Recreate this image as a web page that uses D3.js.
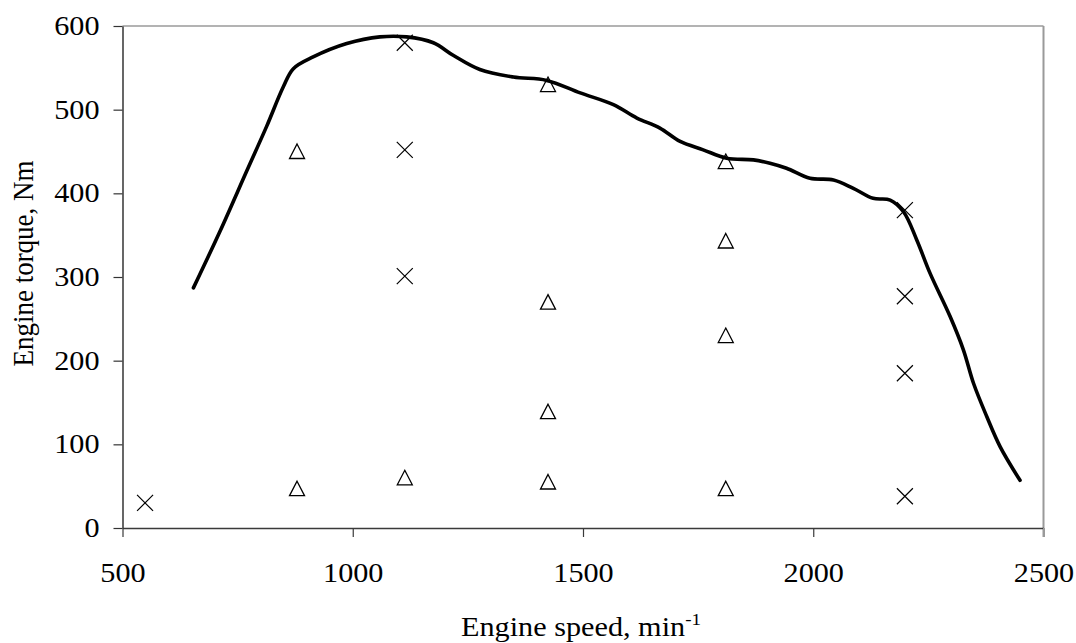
<!DOCTYPE html>
<html>
<head>
<meta charset="utf-8">
<script src="https://cdn.jsdelivr.net/npm/d3@7"></script>
<style>
  html, body { margin: 0; padding: 0; background: #fff; }
  svg { display: block; font-family: "Liberation Serif", "Times New Roman", serif; }
  /* labels are drawn slightly widened horizontally */
  .wide-c { transform-box: fill-box; transform-origin: 50% 50%; transform: scaleX(1.12); }
  .wide-r { transform-box: fill-box; transform-origin: 100% 50%; transform: scaleX(1.12); }
</style>
</head>
<body>
<svg id="chart" width="1076" height="643"></svg>
<script>
// Full-load torque curve: engine speed (min^-1) vs torque (Nm)
const curveSpeed = [654, 712, 770, 813, 849, 871, 914, 987, 1059, 1117, 1175, 1218, 1276,
  1349, 1421, 1494, 1566, 1617, 1667, 1711, 1761, 1812, 1870, 1906, 1942, 1993, 2044,
  2087, 2130, 2167, 2196, 2225, 2254, 2297, 2326, 2348, 2377, 2406, 2449];
const curveTorque = [287, 355, 427, 480, 527, 549, 563, 579, 587, 587, 580, 565, 548,
  539, 535, 520, 506, 490, 478, 462, 452, 442, 440, 436, 430, 418, 416,
  406, 394, 392, 378, 344, 304, 253, 213, 173, 133, 97, 57];

// Operating points marked with triangles
const triSpeed  = [879, 879, 1113, 1424, 1424, 1424, 1424, 1810, 1810, 1810, 1810];
const triTorque = [450, 47, 60, 530, 270, 139, 55, 438, 343, 230, 47];

// Operating points marked with crosses
const crossSpeed  = [549, 1113, 1113, 1113, 2199, 2199, 2199, 2199];
const crossTorque = [30, 580, 452, 301, 380, 277, 185, 38];

// Axis ticks
const xTicks = [500, 1000, 1500, 2000, 2500];
const yTicks = [0, 100, 200, 300, 400, 500, 600];

const plot = { left: 122.5, right: 1043.5, top: 26, bottom: 528 };
const svg = d3.select("#chart");

const x = d3.scaleLinear().domain([500, 2500]).range([plot.left, plot.right]);
const y = d3.scaleLinear().domain([0, 600]).range([plot.bottom, plot.top]);

// Plot frame: grey top and right edges
svg.append("line")
  .attr("x1", plot.left).attr("x2", plot.right)
  .attr("y1", plot.top).attr("y2", plot.top)
  .attr("stroke", "#9a9a9a").attr("stroke-width", 1.5);
svg.append("line")
  .attr("x1", plot.right).attr("x2", plot.right)
  .attr("y1", plot.top).attr("y2", plot.bottom + 9)
  .attr("stroke", "#9a9a9a").attr("stroke-width", 2);

// Y axis
const yAxis = svg.append("g")
  .attr("transform", `translate(${plot.left},0)`)
  .call(d3.axisLeft(y).tickValues(yTicks).tickFormat(d3.format("d"))
    .tickSize(9).tickPadding(14).tickSizeOuter(0));
yAxis.select(".domain").attr("stroke", "#000").attr("stroke-width", 1.2);
yAxis.selectAll(".tick line").attr("stroke", "#333").attr("stroke-width", 1.2);
yAxis.selectAll("text").attr("font-size", 27).attr("fill", "#000")
  .attr("font-family", "Liberation Serif, Times New Roman, serif")
  .attr("class", "wide-r");

// X axis
const xAxis = svg.append("g")
  .attr("transform", `translate(0,${plot.bottom})`)
  .call(d3.axisBottom(x).tickValues(xTicks).tickFormat(d3.format("d"))
    .tickSize(9).tickPadding(26).tickSizeOuter(0));
xAxis.select(".domain").attr("stroke", "#3a3a3a").attr("stroke-width", 1.6);
xAxis.selectAll(".tick line").attr("stroke", "#3a3a3a").attr("stroke-width", 1.2);
xAxis.selectAll(".tick:last-of-type line").attr("stroke", "#9a9a9a").attr("stroke-width", 2);
xAxis.selectAll("text").attr("font-size", 27).attr("fill", "#000")
  .attr("font-family", "Liberation Serif, Times New Roman, serif")
  .attr("class", "wide-c");

// Torque curve
const curveData = curveSpeed.map((s, i) => [s, curveTorque[i]]);
svg.append("path")
  .datum(curveData)
  .attr("fill", "none")
  .attr("stroke", "#000")
  .attr("stroke-width", 3.6)
  .attr("stroke-linejoin", "round")
  .attr("stroke-linecap", "round")
  .attr("d", d3.line().x(d => x(d[0])).y(d => y(d[1])).curve(d3.curveCatmullRom.alpha(0.5)));

// Triangle markers (open)
const triData = triSpeed.map((s, i) => [s, triTorque[i]]);
svg.append("g").selectAll("path")
  .data(triData)
  .join("path")
  .attr("transform", d => `translate(${x(d[0])},${y(d[1])})`)
  .attr("d", "M0,-7.5L7.5,7L-7.5,7Z")
  .attr("fill", "none")
  .attr("stroke", "#000")
  .attr("stroke-width", 1.3);

// Cross markers
const crossData = crossSpeed.map((s, i) => [s, crossTorque[i]]);
svg.append("g").selectAll("path")
  .data(crossData)
  .join("path")
  .attr("transform", d => `translate(${x(d[0])},${y(d[1])})`)
  .attr("d", "M-8,-8L8,8M-8,8L8,-8")
  .attr("fill", "none")
  .attr("stroke", "#000")
  .attr("stroke-width", 1.2);

// Axis titles
svg.append("text")
  .attr("transform", "translate(33,263.5) scale(1.12,1) rotate(-90)")
  .attr("text-anchor", "middle")
  .attr("font-size", 27)
  .text("Engine torque, Nm");

const xTitle = svg.append("text")
  .attr("class", "wide-c")
  .attr("x", 581)
  .attr("y", 636)
  .attr("text-anchor", "middle")
  .attr("font-size", 27);
xTitle.append("tspan").text("Engine speed, min");
xTitle.append("tspan").attr("font-size", 17).attr("dy", -11).text("-1");
</script>
</body>
</html>
